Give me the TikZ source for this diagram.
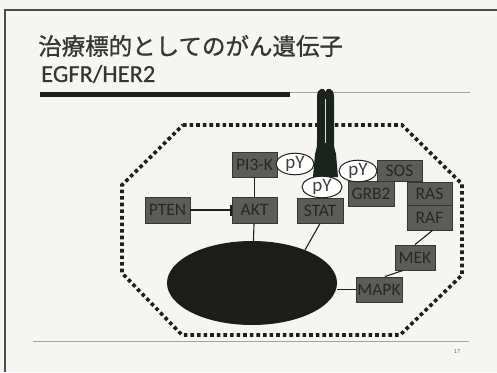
\documentclass[tikz,border=0pt]{standalone}
\usepackage{fontspec}
\setmainfont{Carlito}
\newfontfamily\jpfont[FakeBold=0.9]{Noto Sans CJK JP}
\newfontfamily\subfont[FakeBold=0.5]{Carlito}
\usetikzlibrary{arrows.meta,shapes.geometric}
\definecolor{paper}{HTML}{F5F5F2}
\definecolor{ink}{HTML}{1E1E1C}
\definecolor{boxfill}{HTML}{5B5D56}
\definecolor{boxtext}{HTML}{262823}
\definecolor{recep}{HTML}{1B241B}
\definecolor{rulegray}{HTML}{A3A3A0}
\tikzset{
  gbox/.style={draw=ink!90, line width=0.9pt, fill=boxfill, text=boxtext,
    inner sep=0pt, font=\fontsize{17.5}{17.5}\selectfont},
  pybub/.style={ellipse, draw=ink, line width=1pt, fill=white, inner sep=0pt,
    text=ink!85, font=\fontsize{19}{19}\selectfont},
  link/.style={draw=ink, line width=1.1pt},
  membrane/.style={draw=ink, line width=3.6pt, dash pattern=on 3.6pt off 3pt},
}
\begin{document}
\begin{tikzpicture}[x=1pt, y=-1pt]
  % page
  \fill[paper] (0,0) rectangle (497,372);
  \useasboundingbox (0,0) rectangle (497,372);
  \draw[ink!80, line width=2pt] (5,372) -- (5,10) -- (497,10);

  % heading
  \node[anchor=west, inner sep=0pt, text=ink!90, font=\jpfont\fontsize{23.5}{24}\selectfont]
    (title) at (38,46) {治療標的としてのがん遺伝子};
  \node[anchor=west, inner sep=0pt, text=ink!90, font=\subfont\fontsize{24.5}{24.5}\selectfont]
    (subtitle) at (41,74) {EGFR/HER2};
  \draw[ink, line width=4.5pt] (40,94.5) -- (290,94.5);
  \draw[rulegray, line width=0.9pt] (290,92.5) -- (470,92.5);

  % footer
  \draw[rulegray, line width=1pt] (33,341) -- (469,341);
  \node[text=ink!70, font=\fontsize{6}{6}\selectfont, inner sep=0pt] (pagenum) at (457,352) {17};

  % cell membrane
  \draw[membrane] (183,125) -- (402,125) -- (462,184) -- (462,275) -- (400,335)
    -- (182,335) -- (122,273) -- (122,185) -- cycle;

  % receptor dimer
  \fill[recep] (313,177) -- (315,154) .. controls (317,147) .. (317,140) -- (317,97)
    .. controls (317,87) and (325,87) .. (325.5,92)
    .. controls (326,87) and (334,87) .. (334,97) -- (334,140)
    .. controls (334,147) .. (336,154) -- (338,177) -- cycle;
  \draw[white!85!recep, line width=1.4pt] (325.5,99) -- (325.5,143);

  % nucleus
  \node[ellipse, fill=ink!95!black, minimum width=170pt, minimum height=84pt, inner sep=0pt]
    (nuc) at (252,283) {};

  % signalling proteins
  \node[gbox, minimum width=45pt, minimum height=25pt] (pi3k) at (254.5,164.5) {PI3-K};
  \node[gbox, minimum width=45pt, minimum height=26pt] (akt)  at (254.5,210) {AKT};
  \node[gbox, minimum width=45pt, minimum height=26pt] (pten) at (167.5,210) {PTEN};
  \node[gbox, minimum width=46pt, minimum height=25pt] (stat) at (320,210.5) {STAT};
  \node[gbox, minimum width=45pt, minimum height=21pt] (sos)  at (399.5,170.5) {SOS};
  \node[gbox, minimum width=46pt, minimum height=25pt] (grb2) at (371,193.5) {GRB2};
  \node[gbox, minimum width=45pt, minimum height=23pt] (ras)  at (429.5,193.5) {RAS};
  \node[gbox, minimum width=45pt, minimum height=25pt] (raf)  at (429.5,217.5) {RAF};
  \node[gbox, minimum width=40pt, minimum height=25pt] (mek)  at (415,257.5) {MEK};
  \node[gbox, minimum width=46pt, minimum height=25pt] (mapk) at (379,289.5) {MAPK};

  % phosphotyrosines
  \node[pybub, minimum width=38pt, minimum height=19pt] (py1) at (295,164) {pY};
  \node[pybub, minimum width=40pt, minimum height=20pt] (py2) at (322,187) {pY};
  \node[pybub, minimum width=38pt, minimum height=19pt] (py3) at (358,171) {pY};

  % connections
  \coordinate (statend) at (305,250);
  \draw[link] (pi3k) -- (akt);
  \draw[link] (akt) -- (nuc);
  \draw[link, -{Bar[width=11pt, line width=1.1pt]}] (pten) -- (akt);
  \draw[link] (stat.south) -- (statend);
  \draw[link] ([xshift=3pt]raf.south) -- (mek.north);
  \draw[link] ([xshift=-12pt]mek.south) -- ([xshift=6pt]mapk.north);
  \draw[link] (mapk.west) -- (mapk.west -| nuc.east);
\end{tikzpicture}
\end{document}
